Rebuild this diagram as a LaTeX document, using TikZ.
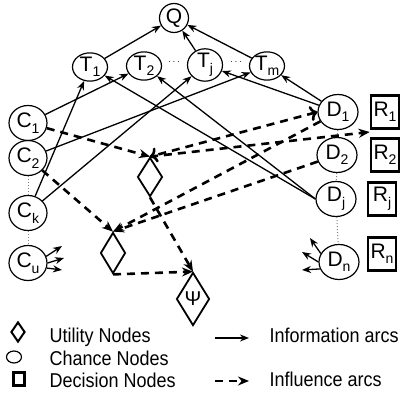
\documentclass[tikz,border=0pt]{standalone}
\usepackage{fontspec}
\setmainfont{Liberation Sans}
\usetikzlibrary{shapes.geometric,arrows.meta}
\newcommand{\nd}[2]{#1\raisebox{-0.5ex}{\fontsize{14}{14}\selectfont #2}}
\newcommand{\lgd}[1]{\scalebox{0.9}[1]{#1}}

\begin{document}
\begin{tikzpicture}[x=1pt,y=-1pt,
		chance/.style={draw,ellipse,line width=1.2pt,inner sep=0pt,minimum width=38pt,minimum height=35pt,font=\fontsize{21}{21}\selectfont},
		topnode/.style={chance,minimum width=35pt,minimum height=28pt},
		decision/.style={draw,line width=2.6pt,inner sep=0pt,minimum width=28pt,minimum height=33pt,font=\fontsize{21}{21}\selectfont},
		utility/.style={draw,diamond,line width=1.8pt,inner sep=0pt,minimum width=25pt,minimum height=39pt},
		info/.style={-{Stealth[length=9pt,width=7pt]},line width=1.3pt},
		infl/.style={-{Stealth[length=11pt,width=9pt]},line width=2.6pt,dash pattern=on 8pt off 6pt},
		dots/.style={gray,dotted,line width=1pt}]
		\useasboundingbox (0,0) rectangle (408,406);
		\node [topnode,minimum width=29pt,minimum height=29pt] (Q) at (174,18) {Q};
		\node [topnode] (T1) at (90,67) {\nd{T}{1}};
		\node [topnode] (T2) at (144,66) {\nd{T}{2}};
		\node [topnode] (Tj) at (205,65) {\nd{T}{j}};
		\node [topnode] (Tm) at (267,66) {\nd{T}{m}};
		\node (e1) at (174,62) {\fontsize{10}{10}\selectfont$\cdots$};
		\node (e2) at (236,62) {\fontsize{10}{10}\selectfont$\cdots$};
		\node [chance] (C1) at (28,123) {\nd{C}{1}};
		\node [chance] (C2) at (28,158) {\nd{C}{2}};
		\node [chance] (Ck) at (28,213) {\nd{C}{k}};
		\node [chance] (Cu) at (28,263) {\nd{C}{u}};
		\node [chance,minimum width=40pt] (D1) at (338,112) {\nd{D}{1}};
		\node [chance,minimum width=40pt] (D2) at (337,155) {\nd{D}{2}};
		\node [chance,minimum width=40pt] (Dj) at (336,199) {\nd{D}{j}};
		\node [chance,minimum width=40pt] (Dn) at (339,262) {\nd{D}{n}};
		\node [decision] (R1) at (385,112) {\nd{R}{1}};
		\node [decision] (R2) at (385,155) {\nd{R}{2}};
		\node [decision] (Rj) at (382,199) {\nd{R}{j}};
		\node [decision] (Rn) at (382,254) {\nd{R}{n}};
		\node [utility] (U1) at (150,177) {};
		\node [utility,minimum height=41pt] (U2) at (113,253) {};
		\node [utility,minimum width=33pt,minimum height=53pt,font=\fontsize{20}{20}\selectfont] (Psi) at (193,299) {Ψ};
		\draw [dots] (C2) -- (Ck);
		\draw [dots] (Ck) -- (Cu);
		\draw [dots] (D1) -- (D2);
		\draw [dots] (D2) -- (Dj);
		\draw [dots] (Dj) -- (Dn);
		\draw [info] (T1) -- (Q);
		\draw [info] (Tj) -- (Q);
		\draw [info] (Tm) -- (Q);
		\draw [info] (C1) -- (T2);
		\draw [info] (C2) -- (Tm);
		\draw [info] (Ck) -- (T1);
		\draw [info] (Ck) -- (Tj);
		\draw [info] (D1) -- (Tj);
		\draw [info] (D1) -- (Tm);
		\draw [info] (Dj.west) -- (T1);
		\draw [info] (Dj.west) -- (T2);
		\draw [infl] (C1) -- (U1.north);
		\draw [infl] (C2) -- (U2.north);
		\draw [infl,<->] (D1.west) -- (U1.north);
		\draw [infl] (U1.north) -- (R1.west |- 0,132);
		\draw [infl] (D1) -- (U2.north);
		\draw [infl] (D2) -- (U2.north);
		\draw [infl] (U1.south) -- (Psi.north);
		\draw [infl] (U2.south) -- (Psi.north);
		\coordinate (cu1) at (62,246);
		\coordinate (cu2) at (64,258);
		\coordinate (cu3) at (62,270);
		\draw [info] (Cu.20) -- (cu1);
		\draw [info] (Cu.0) -- (cu2);
		\draw [info] (Cu.-15) -- (cu3);
		\coordinate (dn1) at (310,238);
		\coordinate (dn2) at (302,252);
		\coordinate (dn3) at (302,270);
		\draw [info] (Dn.155) -- (dn1);
		\draw [info] (Dn.180) -- (dn2);
		\draw [info] (Dn.200) -- (dn3);
		\node [utility,minimum width=14pt,minimum height=20pt,line width=2pt] (kU) at (18,332) {};
		\node [anchor=west,font=\fontsize{20}{20}\selectfont] (tU) at (46,337) {\lgd{Utility Nodes}};
		\node [chance,minimum width=15pt,minimum height=12pt] (kC) at (14,357) {};
		\node [anchor=west,font=\fontsize{20}{20}\selectfont] (tC) at (46,358) {\lgd{Chance Nodes}};
		\node [decision,minimum width=11pt,minimum height=13pt,line width=3pt] (kD) at (19,379) {};
		\node [anchor=west,font=\fontsize{20}{20}\selectfont] (tD) at (46,380) {\lgd{Decision Nodes}};
		\coordinate (aI0) at (215,338);
		\coordinate (aI1) at (249,338);
		\draw [info,line width=2pt] (aI0) -- (aI1);
		\node [anchor=west,font=\fontsize{20}{20}\selectfont] (tI) at (266,335) {\lgd{Information arcs}};
		\coordinate (aF0) at (215,381);
		\coordinate (aF1) at (249,381);
		\draw [infl] (aF0) -- (aF1);
		\node [anchor=west,font=\fontsize{20}{20}\selectfont] (tF) at (266,379) {\lgd{Influence arcs}};
\end{tikzpicture}
\end{document}
